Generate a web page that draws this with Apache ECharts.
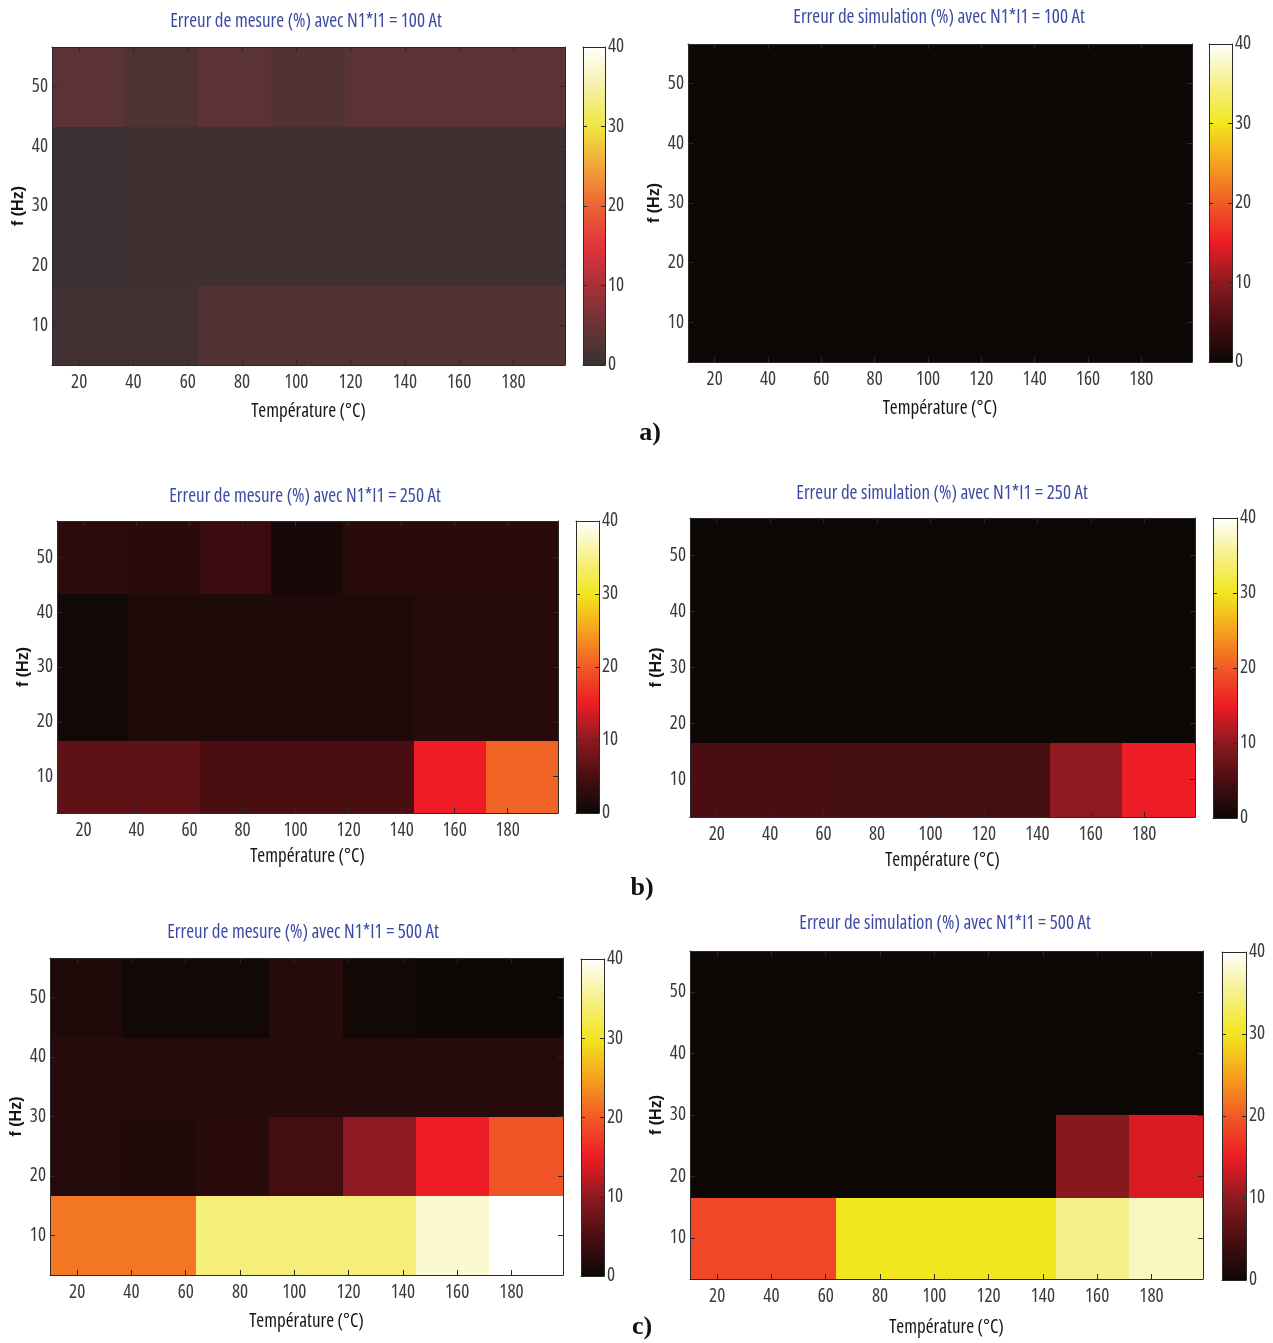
<!DOCTYPE html>
<html><head><meta charset="utf-8">
<script src="https://cdn.jsdelivr.net/npm/echarts@6/dist/echarts.min.js"></script>
<style>html,body{margin:0;padding:0;background:#fff}#c{width:1273px;height:1343px}</style>
</head><body><div id="c"></div>
<script>
// ---------------- data ----------------
const temperatures = [23.5, 50.5, 77.5, 104.5, 131.5, 158.5, 185.5];   // cell centres (°C)
const frequencies = [10, 23.333, 36.667, 50];                          // cell centres (Hz)
const xTickValues = [20, 40, 60, 80, 100, 120, 140, 160, 180];
const yTickValues = [10, 20, 30, 40, 50];
const cbarMin = 0, cbarMax = 40, cbarStep = 10;

const titles = [
  'Erreur de mesure (%) avec N1*I1 = 100 At',
  'Erreur de simulation (%) avec N1*I1 = 100 At',
  'Erreur de mesure (%) avec N1*I1 = 250 At',
  'Erreur de simulation (%) avec N1*I1 = 250 At',
  'Erreur de mesure (%) avec N1*I1 = 500 At',
  'Erreur de simulation (%) avec N1*I1 = 500 At'
];
const xAxisName = 'Température (°C)';
const yAxisName = 'f (Hz)';
const panelLabels = ['a)', 'b)', 'c)'];

// error values (%), rows = frequencies (10, 23.3, 36.7, 50 Hz), columns = temperatures
const mesure100 = [
  [0.7, 0.7, 2.5, 2.5, 2.5, 2.5, 2.5],
  [0.0, 0.5, 0.5, 0.5, 0.5, 0.5, 0.5],
  [0.0, 0.5, 0.5, 0.5, 0.5, 0.5, 0.5],
  [3.5, 2.2, 3.5, 2.5, 3.5, 3.5, 3.5]
];
const simulation100 = [
  [0.1, 0.1, 0.1, 0.1, 0.1, 0.1, 0.1],
  [0.1, 0.1, 0.1, 0.1, 0.1, 0.1, 0.1],
  [0.1, 0.1, 0.1, 0.1, 0.1, 0.1, 0.1],
  [0.1, 0.1, 0.1, 0.1, 0.1, 0.1, 0.1]
];
const mesure250 = [
  [6.5, 6.5, 5.0, 5.0, 5.0, 15.0, 20.7],
  [0.5, 1.5, 1.5, 1.5, 1.5, 2.2, 2.2],
  [0.5, 1.5, 1.5, 1.5, 1.5, 2.2, 2.2],
  [2.7, 2.3, 3.7, 1.0, 2.3, 2.3, 2.3]
];
const simulation250 = [
  [5.0, 5.0, 4.6, 4.6, 4.6, 10.0, 15.0],
  [0.1, 0.1, 0.1, 0.1, 0.1, 0.1, 0.1],
  [0.1, 0.1, 0.1, 0.1, 0.1, 0.1, 0.1],
  [0.1, 0.1, 0.1, 0.1, 0.1, 0.1, 0.1]
];
const mesure500 = [
  [22.0, 22.0, 34.2, 34.2, 34.2, 38.0, 40.0],
  [1.9, 1.7, 2.4, 4.5, 9.9, 15.0, 19.5],
  [2.2, 2.2, 2.2, 2.2, 2.2, 2.2, 2.2],
  [1.5, 0.5, 0.5, 2.2, 0.5, 0.1, 0.1]
];
const simulation500 = [
  [18.5, 18.5, 30.0, 30.0, 30.0, 35.0, 37.3],
  [0.1, 0.1, 0.1, 0.1, 0.1, 9.4, 13.9],
  [0.1, 0.1, 0.1, 0.1, 0.1, 0.1, 0.1],
  [0.1, 0.1, 0.1, 0.1, 0.1, 0.1, 0.1]
];
const panelValues = [mesure100, simulation100, mesure250, simulation250, mesure500, simulation500];

// ---------------- styles ----------------
// "hot" colormap as printed (stops every 5 units from 0 to 40)
const hotColors = ['#0c0806', '#4a0e12', '#8e1a20', '#ee1c25', '#f15a26', '#f6a21e', '#f2e61e', '#f6f08a', '#ffffff'];
// washed-out version used in panel a) left
const hotLifted = ['#3a3132', '#6a3436', '#a8303a', '#e3343c', '#ec6336', '#f2a43a', '#f0e640', '#f5f0a8', '#ffffff'];
const panelColormaps = [hotLifted, hotColors, hotColors, hotColors, hotColors, hotColors];

const layout = [
  {grid: {left: 52, top: 47, width: 513, height: 318}, cbar: {left: 583, top: 47, width: 22, height: 318}, title: [306, 22], nameGap: 37},
  {grid: {left: 688, top: 44, width: 504, height: 318}, cbar: {left: 1209, top: 44, width: 23, height: 318}, title: [939, 18], nameGap: 37},
  {grid: {left: 57, top: 521, width: 501, height: 292}, cbar: {left: 576, top: 521, width: 23, height: 292}, title: [305, 497], nameGap: 34},
  {grid: {left: 690, top: 518, width: 505, height: 299}, cbar: {left: 1213, top: 518, width: 24, height: 300}, title: [942, 494], nameGap: 34},
  {grid: {left: 50, top: 958, width: 513, height: 317}, cbar: {left: 581, top: 959, width: 23, height: 317}, title: [303, 933], nameGap: 37},
  {grid: {left: 690, top: 951, width: 513, height: 328}, cbar: {left: 1222, top: 952, width: 24, height: 328}, title: [945, 924], nameGap: 39}
];
const labelPos = [[650, 433], [642, 888], [642, 1327]];

const COND = "'Open Sans', 'Roboto Condensed', sans-serif";
// 'condensed' is passed as font-stretch through the font shorthand
const tickFont = {fontSize: 19, color: '#3a3a3a', fontFamily: COND, fontWeight: 'condensed'};
const lineCol = '#2a2a2a';

const halfW = (temperatures[1] - temperatures[0]) / 2;
const halfH = (frequencies[1] - frequencies[0]) / 2;
const xMin = temperatures[0] - halfW, xMax = temperatures[temperatures.length - 1] + halfW;
const yMin = frequencies[0] - halfH, yMax = frequencies[frequencies.length - 1] + halfH;

function renderCell(params, api) {
  const x = api.value(0), y = api.value(1);
  const a = api.coord([x - halfW, y + halfH]);
  const b = api.coord([x + halfW, y - halfH]);
  // snap outward to whole pixels so neighbouring cells never leave a seam
  const x0 = Math.floor(a[0]), y0 = Math.floor(a[1]), x1 = Math.ceil(b[0]), y1 = Math.ceil(b[1]);
  return {type: 'rect', shape: {x: x0, y: y0, width: x1 - x0, height: y1 - y0},
          style: {fill: api.visual('color')}};
}

function makeColorbarRenderer(colors) {
  const stops = colors.map((c, i) => ({offset: i / (colors.length - 1), color: c}));
  return function (params, api) {
    const a = api.coord([0, api.value(1)]);
    const b = api.coord([1, api.value(0)]);
    return {type: 'rect', shape: {x: a[0], y: a[1], width: b[0] - a[0], height: b[1] - a[1]},
            style: {fill: new echarts.graphic.LinearGradient(0, 1, 0, 0, stops)}};
  };
}

const grids = [], xAxes = [], yAxes = [], series = [], visualMaps = [], graphics = [];

panelValues.forEach((vals, p) => {
  const L = layout[p];
  const g = grids.length;
  grids.push(L.grid);
  grids.push(L.cbar);

  const mx = xAxes.length, my = yAxes.length;
  // main plot axes
  xAxes.push({gridIndex: g, type: 'value', min: xMin, max: xMax, position: 'bottom', z: 10,
    axisLine: {show: true, onZero: false, lineStyle: {color: lineCol, width: 1}},
    axisTick: {show: true, inside: true, length: 5, customValues: xTickValues, lineStyle: {color: lineCol}},
    axisLabel: Object.assign({customValues: xTickValues, margin: 8}, tickFont),
    splitLine: {show: false},
    name: xAxisName, nameLocation: 'middle', nameGap: L.nameGap,
    nameTextStyle: {fontSize: 19, color: '#151515', fontFamily: COND, fontWeight: '500 condensed'}});
  xAxes.push({gridIndex: g, type: 'value', min: xMin, max: xMax, position: 'top', z: 10,
    axisLine: {show: true, onZero: false, lineStyle: {color: lineCol, width: 1}},
    axisTick: {show: true, inside: true, length: 5, customValues: xTickValues, lineStyle: {color: lineCol}},
    axisLabel: {show: false}, splitLine: {show: false}});
  yAxes.push({gridIndex: g, type: 'value', min: yMin, max: yMax, position: 'left', z: 10,
    axisLine: {show: true, onZero: false, lineStyle: {color: lineCol, width: 1}},
    axisTick: {show: true, inside: true, length: 5, customValues: yTickValues, lineStyle: {color: lineCol}},
    axisLabel: Object.assign({customValues: yTickValues, margin: 4}, tickFont),
    splitLine: {show: false},
    name: yAxisName, nameLocation: 'middle', nameGap: 25, nameRotate: 90,
    nameTextStyle: {fontSize: 16, fontWeight: 'bold', color: '#151515', fontFamily: "'Liberation Sans', Arial, sans-serif"}});
  yAxes.push({gridIndex: g, type: 'value', min: yMin, max: yMax, position: 'right', z: 10,
    axisLine: {show: true, onZero: false, lineStyle: {color: lineCol, width: 1}},
    axisTick: {show: true, inside: true, length: 5, customValues: yTickValues, lineStyle: {color: lineCol}},
    axisLabel: {show: false}, splitLine: {show: false}});

  // colorbar axes
  const cx = xAxes.length, cy = yAxes.length;
  xAxes.push({gridIndex: g + 1, type: 'value', min: 0, max: 1, position: 'bottom', z: 10,
    axisLine: {show: true, onZero: false, lineStyle: {color: lineCol}},
    axisTick: {show: false}, axisLabel: {show: false}, splitLine: {show: false}});
  xAxes.push({gridIndex: g + 1, type: 'value', min: 0, max: 1, position: 'top', z: 10,
    axisLine: {show: true, onZero: false, lineStyle: {color: lineCol}},
    axisTick: {show: false}, axisLabel: {show: false}, splitLine: {show: false}});
  yAxes.push({gridIndex: g + 1, type: 'value', min: cbarMin, max: cbarMax, interval: cbarStep, position: 'right', z: 10,
    axisLine: {show: true, onZero: false, lineStyle: {color: lineCol}},
    axisTick: {show: true, inside: true, length: 4, lineStyle: {color: lineCol}},
    axisLabel: Object.assign({margin: 3}, tickFont), splitLine: {show: false}});
  yAxes.push({gridIndex: g + 1, type: 'value', min: cbarMin, max: cbarMax, interval: cbarStep, position: 'left', z: 10,
    axisLine: {show: true, onZero: false, lineStyle: {color: lineCol}},
    axisTick: {show: true, inside: true, length: 4, lineStyle: {color: lineCol}},
    axisLabel: {show: false}, splitLine: {show: false}});

  // cells
  const data = [];
  vals.forEach((row, r) => row.forEach((v, c) => data.push([temperatures[c], frequencies[r], v])));
  const sIdx = series.length;
  series.push({type: 'custom', xAxisIndex: mx, yAxisIndex: my, data: data,
    encode: {x: 0, y: 1}, renderItem: renderCell, clip: true, silent: true});
  visualMaps.push({type: 'continuous', show: false, min: cbarMin, max: cbarMax, dimension: 2,
    seriesIndex: sIdx, inRange: {color: panelColormaps[p]}});

  // colorbar
  series.push({type: 'custom', xAxisIndex: cx, yAxisIndex: cy, data: [[cbarMin, cbarMax]],
    encode: {y: [0, 1]}, renderItem: makeColorbarRenderer(panelColormaps[p]), silent: true});

  graphics.push({type: 'text', x: L.title[0], y: L.title[1],
    style: {text: titles[p], fill: '#3b4aa3', font: "condensed 500 19px " + COND,
      align: 'center', verticalAlign: 'middle', textAlign: 'center', textVerticalAlign: 'middle'}});
});

panelLabels.forEach((t, i) => {
  graphics.push({type: 'text', x: labelPos[i][0], y: labelPos[i][1],
    style: {text: t, fill: '#111', font: "bold 26px 'Liberation Serif', 'Times New Roman', serif",
      align: 'center', verticalAlign: 'middle', textAlign: 'center', textVerticalAlign: 'middle'}});
});

const chart = echarts.init(document.getElementById('c'), null, {renderer: 'canvas'});
chart.setOption({
  backgroundColor: '#ffffff',
  animation: false,
  grid: grids,
  xAxis: xAxes,
  yAxis: yAxes,
  visualMap: visualMaps,
  series: series,
  graphic: graphics
});
</script>
</body></html>
